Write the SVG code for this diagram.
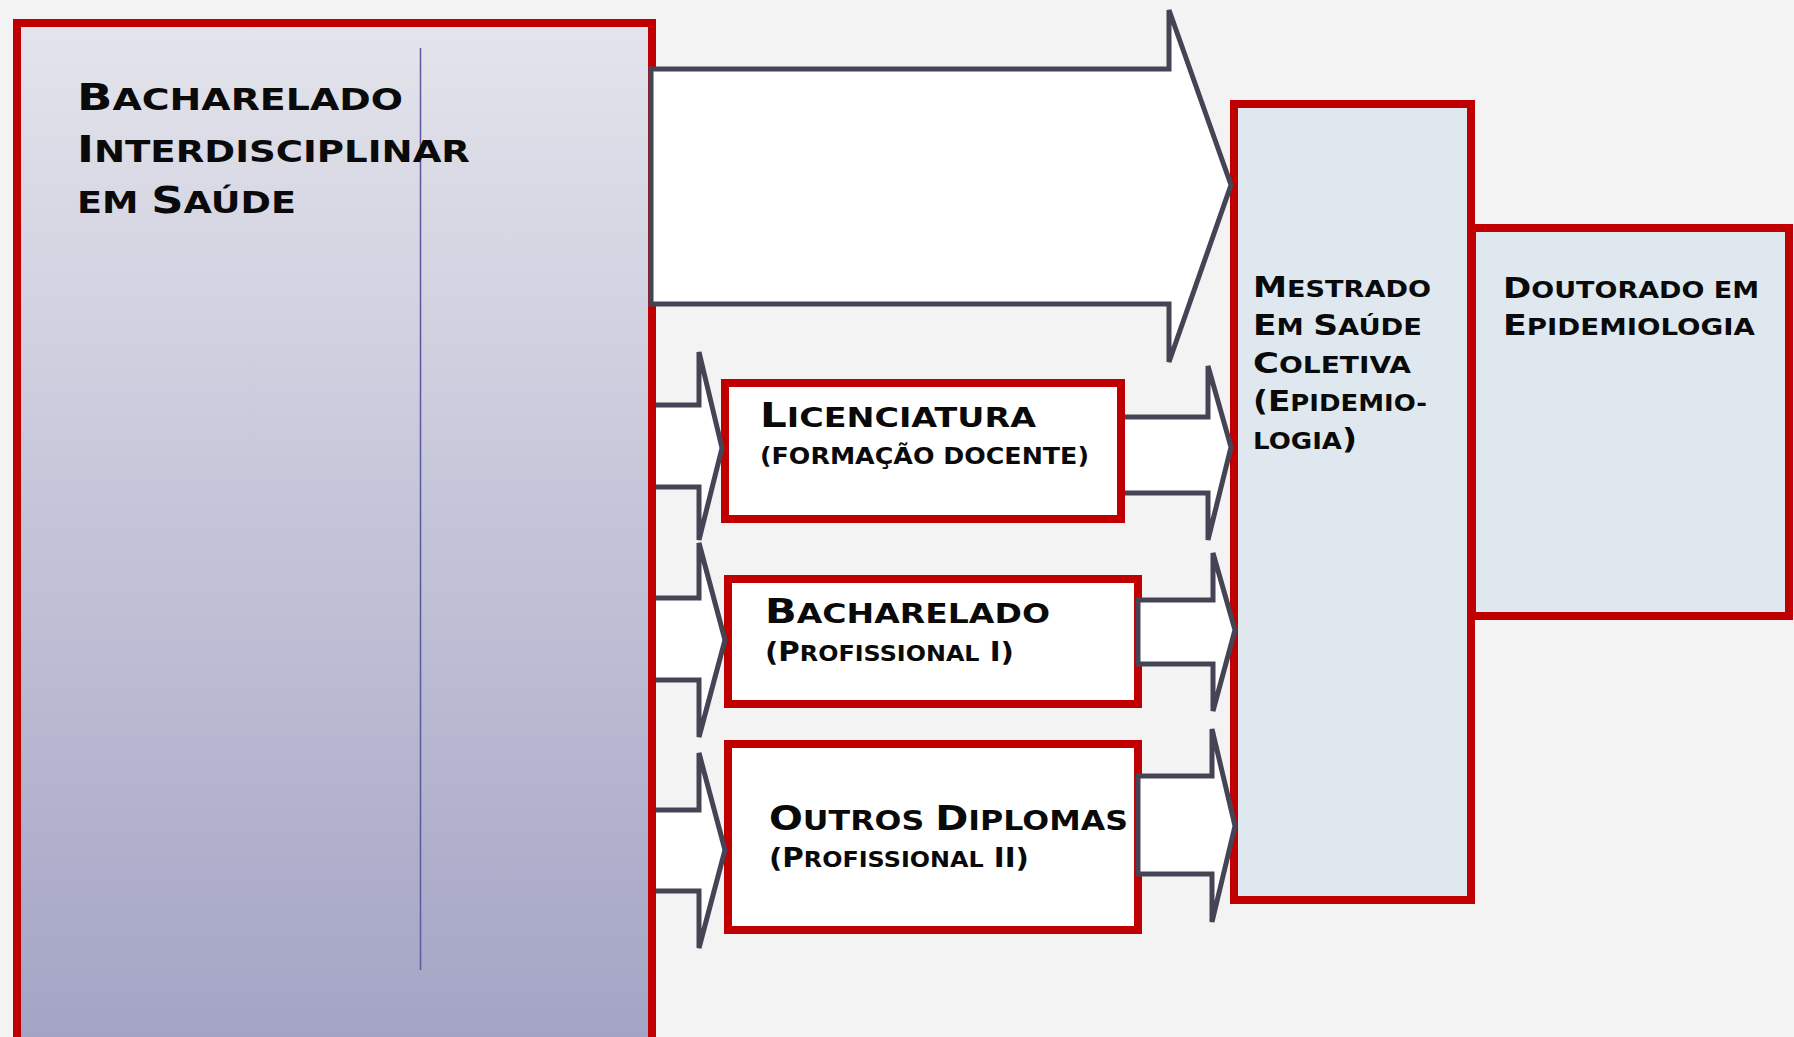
<svg xmlns="http://www.w3.org/2000/svg" width="1794" height="1037" viewBox="0 0 1794 1037">
<defs>
<linearGradient id="gL" x1="0" y1="0" x2="0" y2="1">
<stop offset="0" stop-color="#e4e4ec"/>
<stop offset="1" stop-color="#a2a2c4"/>
</linearGradient>
<style>
.f{font-family:"DejaVu Sans","Liberation Sans",sans-serif;font-weight:bold;fill:#0a0a0a}
.u{text-transform:uppercase}
.box{stroke:#c00000;stroke-width:8}
.wb{fill:#ffffff}
.bb{fill:#dfe8ef}
.ar{fill:#ffffff;stroke:#444455;stroke-width:5;stroke-linejoin:miter}
</style>
</defs>
<rect x="0" y="0" width="1794" height="1037" fill="#f3f3f3"/>

<g id="bacharelado-interdisciplinar">
<rect class="box" x="17" y="23" width="635" height="1040" fill="url(#gL)"/>
<line x1="420.5" y1="48" x2="420.5" y2="970" stroke="#5a5a9e" stroke-width="1.5"/>
<text class="f" x="77" y="110" textLength="326" lengthAdjust="spacingAndGlyphs"><tspan font-size="38">B</tspan><tspan class="u" font-size="31">acharelado</tspan></text>
<text class="f" x="77" y="162" textLength="393" lengthAdjust="spacingAndGlyphs"><tspan font-size="38">I</tspan><tspan class="u" font-size="31">nterdisciplinar</tspan></text>
<text class="f" x="77" y="213" textLength="219" lengthAdjust="spacingAndGlyphs"><tspan class="u" font-size="31">em </tspan><tspan font-size="38">S</tspan><tspan class="u" font-size="31">aúde</tspan></text>
</g>

<g id="licenciatura">
<rect class="box wb" x="725" y="383" width="396" height="136"/>
<text class="f" x="760" y="427" textLength="276" lengthAdjust="spacingAndGlyphs"><tspan font-size="34">L</tspan><tspan class="u" font-size="27">icenciatura</tspan></text>
<text class="f u" x="760" y="464" font-size="23" textLength="329" lengthAdjust="spacingAndGlyphs">(formação docente)</text>
</g>

<g id="bacharelado-profissional">
<rect class="box wb" x="728" y="579" width="410" height="125"/>
<text class="f" x="765" y="623" textLength="285" lengthAdjust="spacingAndGlyphs"><tspan font-size="34">B</tspan><tspan class="u" font-size="27">acharelado</tspan></text>
<text class="f" x="765" y="661" textLength="249" lengthAdjust="spacingAndGlyphs"><tspan font-size="27">(P</tspan><tspan class="u" font-size="22">rofissional</tspan><tspan font-size="27"> I)</tspan></text>
</g>

<g id="outros-diplomas">
<rect class="box wb" x="728" y="744" width="410" height="186"/>
<text class="f" x="769" y="830" textLength="359" lengthAdjust="spacingAndGlyphs"><tspan font-size="34">O</tspan><tspan class="u" font-size="27">utros </tspan><tspan font-size="34">D</tspan><tspan class="u" font-size="27">iplomas</tspan></text>
<text class="f" x="769" y="867" textLength="260" lengthAdjust="spacingAndGlyphs"><tspan font-size="27">(P</tspan><tspan class="u" font-size="22">rofissional</tspan><tspan font-size="27"> II)</tspan></text>
</g>

<g id="mestrado">
<rect class="box bb" x="1234" y="104" width="237" height="796"/>
<text class="f" x="1253" y="297" textLength="178" lengthAdjust="spacingAndGlyphs"><tspan font-size="29">M</tspan><tspan class="u" font-size="23">estrado</tspan></text>
<text class="f" x="1253" y="335" textLength="169" lengthAdjust="spacingAndGlyphs"><tspan font-size="29">E</tspan><tspan class="u" font-size="23">m </tspan><tspan font-size="29">S</tspan><tspan class="u" font-size="23">aúde</tspan></text>
<text class="f" x="1253" y="373" textLength="158" lengthAdjust="spacingAndGlyphs"><tspan font-size="29">C</tspan><tspan class="u" font-size="23">oletiva</tspan></text>
<text class="f" x="1253" y="411" textLength="174" lengthAdjust="spacingAndGlyphs"><tspan font-size="29">(E</tspan><tspan class="u" font-size="23">pidemio-</tspan></text>
<text class="f" x="1253" y="449" textLength="104" lengthAdjust="spacingAndGlyphs"><tspan class="u" font-size="23">logia</tspan><tspan font-size="29">)</tspan></text>
</g>

<g id="doutorado">
<rect class="box bb" x="1472" y="228" width="317" height="388"/>
<text class="f" x="1503" y="298" textLength="256" lengthAdjust="spacingAndGlyphs"><tspan font-size="29">D</tspan><tspan class="u" font-size="23">outorado em</tspan></text>
<text class="f" x="1503" y="335" textLength="252" lengthAdjust="spacingAndGlyphs"><tspan font-size="29">E</tspan><tspan class="u" font-size="23">pidemiologia</tspan></text>
</g>

<g id="connectors">
<polygon class="ar" points="651,69 1169,69 1169,10 1231,185 1169,362 1169,304 651,304"/>
<path class="ar" d="M656,405 H699 V352 L722,448 L699,540 V487 H656"/>
<path class="ar" d="M656,598 H699 V543 L725,640 L699,737 V680 H656"/>
<path class="ar" d="M656,810 H699 V753 L725,850 L699,948 V891 H656"/>
<path class="ar" d="M1125,417 H1208 V366 L1231,447 L1208,540 V493 H1125"/>
<polygon class="ar" points="1138,600 1213,600 1213,553 1235,630 1213,711 1213,664 1138,664"/>
<polygon class="ar" points="1138,776 1212,776 1212,729 1235,826 1212,922 1212,874 1138,874"/>
</g>
</svg>
